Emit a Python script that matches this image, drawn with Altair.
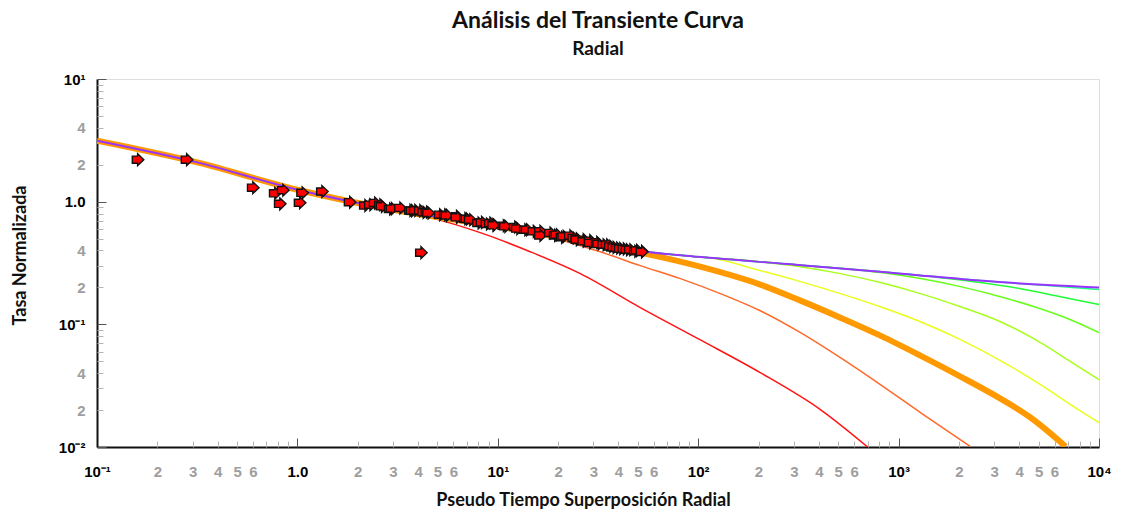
import altair as alt
import pandas as pd

# ---------------- data ----------------
# infinite-acting curve (purple)
purple_t = [0.1, 0.316, 1.0, 3.16, 10, 31.6, 56.2, 100, 316, 1000, 3162, 10000]
purple_q = [3.14, 2.09, 1.25, 0.845, 0.63, 0.447, 0.389, 0.355, 0.305, 0.26, 0.221, 0.20]

red_t = [0.1, 0.316, 1.0, 3.16, 4.60, 8.17, 14.5, 25.8, 51.4, 102, 204, 407, 706]
red_q = [3.14, 2.09, 1.25, 0.845, 0.741, 0.559, 0.391, 0.259, 0.137, 0.075, 0.0404, 0.0202, 0.0099]

orred_t = [0.1, 0.316, 1.0, 3.16, 10, 16.3, 32.4, 51.4, 81.5, 129, 204, 324, 512, 811, 1285, 2280]
orred_q = [3.14, 2.09, 1.25, 0.845, 0.63, 0.538, 0.391, 0.301, 0.236, 0.178, 0.129, 0.0855, 0.0535, 0.0323, 0.0191, 0.0101]

orange_t = [0.1, 0.316, 1.0, 3.16, 10, 31.6, 51.4, 81.5, 129, 204, 324, 512, 811, 1285, 2037, 3222, 4550, 6810]
orange_q = [3.14, 2.09, 1.25, 0.845, 0.63, 0.447, 0.384, 0.324, 0.266, 0.211, 0.156, 0.1134, 0.0809, 0.0556, 0.0375, 0.0248, 0.0174, 0.0101]

yellow_t = [0.1, 0.316, 1.0, 3.16, 10, 31.6, 56.2, 100, 111, 204, 324, 512, 811, 1285, 2037, 3222, 5105, 7210, 10000]
yellow_q = [3.14, 2.09, 1.25, 0.845, 0.63, 0.447, 0.389, 0.355, 0.350, 0.274, 0.223, 0.178, 0.139, 0.105, 0.075, 0.0506, 0.0323, 0.0222, 0.0158]

ygreen_t = [0.1, 0.316, 1.0, 3.16, 10, 31.6, 56.2, 100, 204, 324, 512, 811, 1285, 2037, 3222, 5105, 7210, 10000]
ygreen_q = [3.14, 2.09, 1.25, 0.845, 0.63, 0.447, 0.389, 0.355, 0.324, 0.295, 0.259, 0.219, 0.178, 0.139, 0.105, 0.071, 0.0497, 0.0354]

green1_t = [0.1, 0.316, 1.0, 3.16, 10, 31.6, 56.2, 100, 316, 811, 1285, 2037, 3222, 5105, 7210, 10000]
green1_q = [3.14, 2.09, 1.25, 0.845, 0.63, 0.447, 0.389, 0.355, 0.305, 0.264, 0.236, 0.203, 0.168, 0.134, 0.109, 0.0855]

green2_t = [0.1, 0.316, 1.0, 3.16, 10, 31.6, 56.2, 100, 316, 1000, 1618, 2559, 4055, 6427, 10000]
green2_q = [3.14, 2.09, 1.25, 0.845, 0.63, 0.447, 0.389, 0.355, 0.305, 0.26, 0.240, 0.219, 0.195, 0.168, 0.145]

spring_t = [0.1, 0.316, 1.0, 3.16, 10, 31.6, 56.2, 100, 316, 1000, 3162, 5730, 10000]
spring_q = [3.14, 2.09, 1.25, 0.845, 0.63, 0.447, 0.389, 0.355, 0.305, 0.26, 0.221, 0.2065, 0.192]

# measured data points
pts_t = [0.160, 0.281, 0.601, 0.774, 0.849, 0.820, 1.06, 1.03, 1.33, 1.83, 2.18, 2.31, 2.44, 2.59,
         2.64, 2.90, 2.96, 3.26, 3.66, 3.73, 3.87, 4.10, 4.26, 4.43, 4.51, 5.15, 5.46, 5.57, 6.25,
         6.25, 6.88, 7.01, 7.28, 8.01, 8.33, 8.82, 9.17, 9.52, 9.52, 10.7, 10.9, 12.2, 12.5, 13.7,
         14.0, 15.1, 16.3, 16.3, 18.3, 19.3, 19.7, 20.9, 21.3, 23.0, 23.9, 24.8, 24.8, 26.8, 26.8,
         28.9, 28.9, 31.3, 31.8, 33.7, 35.1, 36.4, 37.8, 39.4, 40.8, 42.5, 44.1, 45.8, 48.5, 49.5,
         52.4, 52.4, 4.15]
pts_q = [2.20, 2.20, 1.30, 1.17, 1.24, 0.96, 1.18, 0.98, 1.21, 0.99, 0.93, 0.945, 0.976, 0.945,
         0.916, 0.872, 0.877, 0.889, 0.849, 0.845, 0.849, 0.845, 0.818, 0.824, 0.809, 0.783, 0.783, 0.773, 0.759,
         0.745, 0.727, 0.723, 0.713, 0.670, 0.678, 0.658, 0.670, 0.650, 0.641, 0.637, 0.629, 0.622, 0.603, 0.591,
         0.591, 0.573, 0.573, 0.531, 0.556, 0.531, 0.538, 0.512, 0.521, 0.528, 0.506, 0.497, 0.490, 0.490, 0.475,
         0.481, 0.461, 0.466, 0.452, 0.446, 0.446, 0.432, 0.424, 0.419, 0.414, 0.412, 0.406, 0.406, 0.394, 0.401,
         0.394, 0.389, 0.384]

# axis labels
x_label_values = [0.1, 0.2, 0.3, 0.4, 0.5, 0.6, 1, 2, 3, 4, 5, 6, 10, 20, 30, 40, 50, 60,
                  100, 200, 300, 400, 500, 600, 1000, 2000, 3000, 4000, 5000, 6000, 10000]
x_label_texts = ["10⁻¹", "2", "3", "4", "5", "6", "1.0", "2", "3", "4", "5", "6", "10¹", "2", "3", "4", "5", "6",
                 "10²", "2", "3", "4", "5", "6", "10³", "2", "3", "4", "5", "6", "10⁴"]
y_label_values = [0.01, 0.02, 0.04, 0.1, 0.2, 0.4, 1, 2, 4, 10]
y_label_texts = ["10⁻²", "2", "4", "10⁻¹", "2", "4", "1.0", "2", "4", "10¹"]
x_tick_values = [k * 10.0 ** n for n in range(-1, 4) for k in range(1, 10)] + [10000]
y_tick_values = [k * 10.0 ** n for n in range(-2, 1) for k in range(1, 10)] + [10]

# ---------------- build tables ----------------
thin_curves = [
    ("red", red_t, red_q, "#ff1414"),
    ("orred", orred_t, orred_q, "#ff6a2a"),
    ("yellow", yellow_t, yellow_q, "#e8ff1a"),
    ("ygreen", ygreen_t, ygreen_q, "#a8ff1a"),
    ("green1", green1_t, green1_q, "#66ff1a"),
    ("green2", green2_t, green2_q, "#22ff33"),
    ("spring", spring_t, spring_q, "#1aff80"),
]
rows = []
for name, ts, qs, _ in thin_curves:
    for t, q in zip(ts, qs):
        rows.append({"curve": name, "t": t, "q": q})
df_thin = pd.DataFrame(rows)
df_orange = pd.DataFrame({"t": orange_t, "q": orange_q})
df_purple = pd.DataFrame({"t": purple_t, "q": purple_q})
df_pts = pd.DataFrame({"t": pts_t, "q": pts_q})

W, H = 1002, 368

major_test = "abs(log(datum.value)/LN10 - round(log(datum.value)/LN10)) < 1e-6"


def label_expr(values, texts):
    expr = "''"
    for v, s in reversed(list(zip(values, texts))):
        expr = f"abs(datum.value/{v} - 1) < 1e-6 ? '{s}' : ({expr})"
    return expr


xscale = alt.Scale(type="log", domain=[0.1, 10000], nice=False)
yscale = alt.Scale(type="log", domain=[0.01, 10], nice=False)

label_color = {"condition": {"test": major_test, "value": "#000000"}, "value": "#9e9e9e"}

x_label_axis = alt.Axis(
    values=x_label_values, labelExpr=label_expr(x_label_values, x_label_texts),
    ticks=False, grid=False, domain=True, domainColor="#111111", domainWidth=2,
    labelFont="Liberation Sans", labelFontSize=15, labelFontWeight="bold",
    labelColor=label_color, labelPadding=17, labelOverlap=False, labelFlush=False, labelBound=False,
    title="Pseudo Tiempo Superposición Radial", titleFont="Lato", titleFontSize=18,
    titleFontWeight="bold", titleColor="#111111", titleX=486, titleY=53,
    titleBaseline="middle", titleAlign="center",
)
y_label_axis = alt.Axis(
    values=y_label_values, labelExpr=label_expr(y_label_values, y_label_texts),
    ticks=False, grid=False, domain=True, domainColor="#111111", domainWidth=2,
    labelFont="Liberation Sans", labelFontSize=15, labelFontWeight="bold",
    labelColor=label_color, labelPadding=12, labelOverlap=False, labelFlush=False, labelBound=False,
    title="Tasa Normalizada", titleFont="Lato", titleFontSize=18,
    titleFontWeight="bold", titleColor="#111111", titleX=-77, titleY=176,
    titleBaseline="middle", titleAlign="center", titleAngle=270,
)
tick_size = {"condition": {"test": major_test, "value": 9}, "value": 6}
tick_color = {"condition": {"test": major_test, "value": "#555555"}, "value": "#b5b5b5"}
x_tick_axis = alt.Axis(
    orient="top", offset=-H, values=x_tick_values, labels=False, domain=False, grid=False,
    ticks=True, tickSize=tick_size, tickColor=tick_color, tickWidth=1, title=None,
)
y_tick_axis = alt.Axis(
    orient="right", offset=-W, values=y_tick_values, labels=False, domain=False, grid=False,
    ticks=True, tickSize=tick_size, tickColor=tick_color, tickWidth=1, title=None,
)

thin = alt.Chart(df_thin).mark_line(strokeWidth=1.5, clip=True, interpolate="monotone").encode(
    x=alt.X("t:Q", scale=xscale, axis=x_label_axis),
    y=alt.Y("q:Q", scale=yscale, axis=y_label_axis),
    color=alt.Color("curve:N", legend=None,
                    scale=alt.Scale(domain=[c[0] for c in thin_curves], range=[c[3] for c in thin_curves])),
    detail="curve:N",
)
thick = alt.Chart(df_orange).mark_line(strokeWidth=6, color="#ff9900", clip=True, interpolate="monotone").encode(
    x=alt.X("t:Q", scale=xscale, axis=None),
    y=alt.Y("q:Q", scale=yscale, axis=None),
)
purple = alt.Chart(df_purple).mark_line(strokeWidth=2, color="#9933ff", clip=True, interpolate="monotone").encode(
    x=alt.X("t:Q", scale=xscale, axis=None),
    y=alt.Y("q:Q", scale=yscale, axis=None),
)
arrow = "M -0.95 -0.6 L -0.05 -0.6 L -0.05 -1 L 1 0 L -0.05 1 L -0.05 0.6 L -0.95 0.6 Z"
points = alt.Chart(df_pts).mark_point(
    shape=arrow, size=140, filled=True, fill="#ff0000", stroke="#111111", strokeWidth=1.4, opacity=1,
).encode(
    x=alt.X("t:Q", scale=xscale, axis=x_tick_axis),
    y=alt.Y("q:Q", scale=yscale, axis=y_tick_axis),
)

chart = alt.layer(thin, thick, purple, points).resolve_axis(
    x="independent", y="independent"
).properties(
    width=W, height=H,
    title=alt.TitleParams(
        text="Análisis del Transiente Curva", subtitle="Radial",
        font="Lato", fontSize=23, fontWeight="bold", color="#111111",
        subtitleFont="Lato", subtitleFontSize=19, subtitleFontWeight="bold", subtitleColor="#111111",
        anchor="middle", offset=13, subtitlePadding=7,
    ),
    autosize=alt.AutoSizeParams(type="none"),
    padding={"left": 97, "top": 79, "right": 22, "bottom": 70},
).configure_view(stroke="#9a9a9a", strokeWidth=1).configure(background="white")

chart.save("out.html", embed_options={"renderer": "svg", "actions": False})
